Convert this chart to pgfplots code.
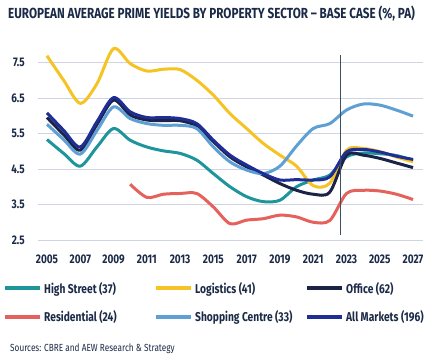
\documentclass[border=0pt]{standalone}
\usepackage{fontspec}
\setmainfont{Fira Sans}[FakeStretch=0.8]
\usepackage{pgfplots}
\usepackage{pgfplotstable}
\pgfplotsset{compat=1.18}
\definecolor{navytxt}{HTML}{1B2A47}
\definecolor{chs}{HTML}{1E959B}
\definecolor{clog}{HTML}{F6C324}
\definecolor{coff}{HTML}{1B2347}
\definecolor{cres}{HTML}{E5615C}
\definecolor{csc}{HTML}{5FA0D4}
\definecolor{call}{HTML}{1E2E96}
\definecolor{gridc}{HTML}{D0D3E3}
\definecolor{vline}{HTML}{3E5060}
\pgfplotstableread{
year HS LOG OFF RES SC ALL
2005 5.33 7.69 5.95 nan 5.76 6.08
2006 4.94 7.00 5.47 nan 5.33 5.59
2007 4.58 6.35 5.03 nan 4.92 5.12
2008 5.12 6.90 5.75 nan 5.58 5.83
2009 5.64 7.89 6.44 nan 6.25 6.51
2010 5.31 7.47 6.02 4.07 5.92 6.11
2011 5.12 7.26 5.88 3.70 5.78 5.95
2012 5.01 7.31 5.86 3.79 5.73 5.95
2013 4.94 7.30 5.86 3.81 5.73 5.92
2014 4.75 7.00 5.71 3.81 5.64 5.78
2015 4.37 6.58 5.27 3.43 5.12 5.31
2016 4.00 6.06 4.84 2.96 4.70 4.89
2017 3.72 5.64 4.56 3.06 4.47 4.61
2018 3.58 5.22 4.33 3.10 4.37 4.37
2019 3.62 4.89 4.09 3.20 4.58 4.19
2020 4.00 4.58 3.90 3.15 5.15 4.20
2021 4.19 4.03 3.79 3.00 5.64 4.19
2022 4.33 4.10 3.85 3.05 5.78 4.28
2023 4.84 5.03 4.89 3.81 6.16 4.98
2024 4.95 5.08 4.89 3.90 6.33 5.05
2025 4.93 4.99 4.80 3.88 6.30 4.98
2026 4.88 4.84 4.67 3.79 6.16 4.86
2027 4.74 4.70 4.54 3.64 5.99 4.77
}\yields
\begin{document}
\begin{tikzpicture}[x=1pt,y=1pt]
\useasboundingbox (0,0) rectangle (446,363);
\node[anchor=west, text=navytxt, font=\bfseries\fontsize{14.6}{16}\selectfont, inner sep=0pt] at (8,349) {EUROPEAN AVERAGE PRIME YIELDS BY PROPERTY SECTOR – BASE CASE (\%, PA)};
\node[anchor=west, text=navytxt, font=\fontsize{10.3}{12}\selectfont, inner sep=0pt] at (10,14) {Sources: CBRE and AEW Research \& Strategy};
\begin{axis}[
  at={(38pt,123pt)}, anchor=south west, scale only axis,
  width=385pt, height=195.25pt,
  xmin=2004.46, xmax=2027.6, ymin=2.5, ymax=8,
  axis line style={draw=none}, major tick length=0pt,
  ytick={2.5,3.5,4.5,5.5,6.5,7.5},
  xtick={2005,2007,...,2027},
  ymajorgrids, grid style={color=gridc, line width=0.8pt},
  /pgf/number format/assume math mode=true,
  /pgf/number format/1000 sep={},
  /pgf/number format/fixed, /pgf/number format/precision=1,
  tick label style={text=navytxt, font=\bfseries\fontsize{12.5}{14}\selectfont, inner sep=0pt},
  yticklabel style={anchor=east, xshift=-13pt},
  xticklabel style={anchor=north, yshift=-15pt},
  legend columns=3,
  legend style={at={(0,0)}, anchor=north west, xshift=-35pt, yshift=-40pt, draw=none, fill=none, inner sep=0pt, font=\bfseries\fontsize{12.8}{14}\selectfont, text=navytxt, row sep=12pt, cells={anchor=west}},
  legend image code/.code={\draw[#1, line width=4pt] (0pt,0pt) -- (35pt,0pt);},
  every axis plot/.append style={line width=3pt, smooth, tension=0.5, no markers, unbounded coords=jump},
]
\addplot[chs] table[x=year, y=HS] {\yields};
\addlegendentry{\makebox[108pt][l]{High Street (37)}}
\addplot[clog] table[x=year, y=LOG] {\yields};
\addlegendentry{\makebox[108pt][l]{Logistics (41)}}
\addplot[coff] table[x=year, y=OFF] {\yields};
\addlegendentry{Office (62)}
\addplot[cres] table[x=year, y=RES] {\yields};
\addlegendentry{\makebox[108pt][l]{Residential (24)}}
\addplot[csc] table[x=year, y=SC] {\yields};
\addlegendentry{\makebox[108pt][l]{Shopping Centre (33)}}
\addplot[call] table[x=year, y=ALL] {\yields};
\addlegendentry{All Markets (196)}
\addplot[vline, line width=0.9pt, sharp plot, forget plot] coordinates {(2022.63,2.64) (2022.63,7.71)};
\end{axis}
\end{tikzpicture}
\end{document}
